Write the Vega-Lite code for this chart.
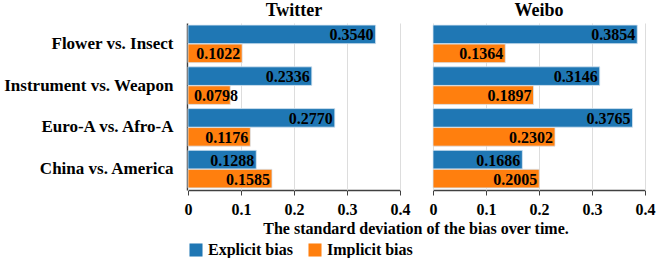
{
  "$schema": "https://vega.github.io/schema/vega-lite/v6.json",
  "padding": {"left": 3, "right": 2, "top": 2, "bottom": 0},
  "background": "white",
  "data": {"values": [
    {"platform": "Twitter", "pair": "Flower vs. Insect", "bias": "Explicit bias", "value": 0.3540},
    {"platform": "Twitter", "pair": "Flower vs. Insect", "bias": "Implicit bias", "value": 0.1022},
    {"platform": "Twitter", "pair": "Instrument vs. Weapon", "bias": "Explicit bias", "value": 0.2336},
    {"platform": "Twitter", "pair": "Instrument vs. Weapon", "bias": "Implicit bias", "value": 0.0798},
    {"platform": "Twitter", "pair": "Euro-A vs. Afro-A", "bias": "Explicit bias", "value": 0.2770},
    {"platform": "Twitter", "pair": "Euro-A vs. Afro-A", "bias": "Implicit bias", "value": 0.1176},
    {"platform": "Twitter", "pair": "China vs. America", "bias": "Explicit bias", "value": 0.1288},
    {"platform": "Twitter", "pair": "China vs. America", "bias": "Implicit bias", "value": 0.1585},
    {"platform": "Weibo", "pair": "Flower vs. Insect", "bias": "Explicit bias", "value": 0.3854},
    {"platform": "Weibo", "pair": "Flower vs. Insect", "bias": "Implicit bias", "value": 0.1364},
    {"platform": "Weibo", "pair": "Instrument vs. Weapon", "bias": "Explicit bias", "value": 0.3146},
    {"platform": "Weibo", "pair": "Instrument vs. Weapon", "bias": "Implicit bias", "value": 0.1897},
    {"platform": "Weibo", "pair": "Euro-A vs. Afro-A", "bias": "Explicit bias", "value": 0.3765},
    {"platform": "Weibo", "pair": "Euro-A vs. Afro-A", "bias": "Implicit bias", "value": 0.2302},
    {"platform": "Weibo", "pair": "China vs. America", "bias": "Explicit bias", "value": 0.1686},
    {"platform": "Weibo", "pair": "China vs. America", "bias": "Implicit bias", "value": 0.2005}
  ]},
  "transform": [{"calculate": "max(datum.value, 0.098)", "as": "labelPos"}],
  "facet": {
    "column": {
      "field": "platform",
      "type": "nominal",
      "sort": ["Twitter", "Weibo"],
      "title": "The standard deviation of the bias over time.",
      "header": {
        "labelOrient": "top",
        "titleOrient": "bottom",
        "labelFont": "Liberation Serif",
        "labelFontWeight": "bold",
        "labelFontSize": 18,
        "labelColor": "black",
        "labelPadding": 3,
        "titleFont": "Liberation Serif",
        "titleFontWeight": "bold",
        "titleFontSize": 16,
        "titleColor": "black",
        "titlePadding": -6
      }
    }
  },
  "spacing": 32,
  "spec": {
    "width": 212,
    "height": 167,
    "encoding": {
      "y": {
        "field": "pair",
        "type": "nominal",
        "sort": ["Flower vs. Insect", "Instrument vs. Weapon", "Euro-A vs. Afro-A", "China vs. America"],
        "title": null,
        "scale": {"paddingInner": 0.1, "paddingOuter": 0.05},
        "axis": {
          "ticks": false,
          "labelFont": "Liberation Serif",
          "labelFontWeight": "bold",
          "labelFontSize": 17,
          "labelColor": "black",
          "labelPadding": 14,
          "domainColor": "#404040",
          "domainWidth": 1.5
        }
      },
      "yOffset": {"field": "bias", "type": "nominal", "sort": ["Explicit bias", "Implicit bias"], "scale": {"paddingInner": 0.02}}
    },
    "layer": [
      {
        "mark": {"type": "bar", "stroke": "#d8e6f2", "strokeWidth": 0.8},
        "encoding": {
          "x": {
            "field": "value",
            "type": "quantitative",
            "scale": {"domain": [0, 0.4]},
            "title": null,
            "axis": {
              "values": [0, 0.1, 0.2, 0.3, 0.4],
              "labelExpr": "datum.value == 0 ? '0' : format(datum.value, '.1f')",
              "labelFont": "Liberation Serif",
              "labelFontWeight": "bold",
              "labelFontSize": 16,
              "labelColor": "black",
              "labelPadding": 6,
              "tickColor": "#404040",
              "tickSize": 5,
              "domainColor": "#404040",
              "domainWidth": 1.5,
              "gridColor": "#dddddd",
              "labelFlush": false
            }
          },
          "color": {
            "field": "bias",
            "type": "nominal",
            "sort": ["Explicit bias", "Implicit bias"],
            "scale": {"range": ["#1f77b4", "#ff7f0e"]},
            "legend": {
              "orient": "bottom",
              "title": null,
              "direction": "horizontal",
              "symbolType": "square",
              "symbolSize": 170,
              "symbolStrokeWidth": 0,
              "labelFont": "Liberation Serif",
              "labelFontWeight": "bold",
              "labelFontSize": 16,
              "labelColor": "black",
              "labelOffset": 4,
              "columnPadding": 14,
              "offset": 5
            }
          }
        }
      },
      {
        "mark": {"type": "text", "align": "right", "baseline": "middle", "dx": -2, "dy": 1, "font": "Liberation Serif", "fontWeight": "bold", "fontSize": 16, "color": "black"},
        "encoding": {
          "x": {"field": "labelPos", "type": "quantitative"},
          "text": {"field": "value", "type": "quantitative", "format": ".4f"}
        }
      }
    ]
  },
  "config": {"view": {"stroke": null}}
}
